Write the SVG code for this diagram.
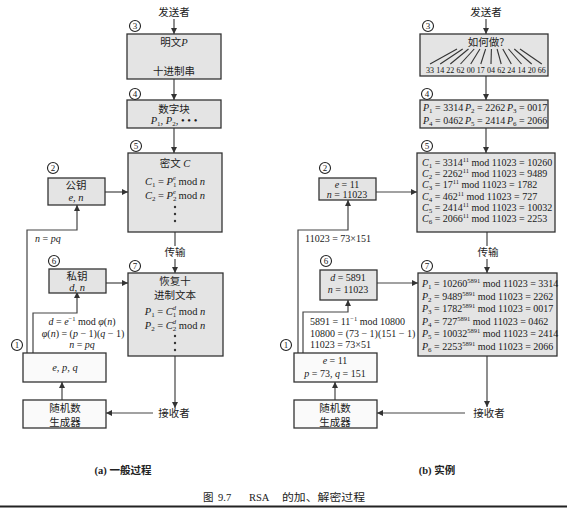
<svg xmlns="http://www.w3.org/2000/svg" width="567" height="508" viewBox="0 0 567 508">
<defs>
<marker id="ah" viewBox="0 0 10 10" refX="10" refY="5" markerWidth="7" markerHeight="6" orient="auto" markerUnits="userSpaceOnUse"><path d="M0,0 L10,5 L0,10 z" fill="#333"/></marker>
</defs>
<style>
.box{fill:#e4e4e4;stroke:#333;stroke-width:1.3}
.wbox{fill:#fafafa;stroke:#333;stroke-width:1.3}
.ln{stroke:#444;stroke-width:1.2;fill:none}
.ar{stroke:#444;stroke-width:1.2;fill:none;marker-end:url(#ah)}
.fan{stroke:#333;stroke-width:1.1}
.zh{font-family:"Noto Sans CJK SC","Noto Sans CJK JP",sans-serif;font-size:10.5px;fill:#222}
.m{font-family:"Liberation Serif",serif;font-size:10.5px;fill:#1a1a1a}
.r{font-family:"Liberation Serif",serif;font-size:10px;fill:#1a1a1a}
.num{font-family:"Liberation Serif",serif;font-size:8px;fill:#111;text-anchor:middle}
.i{font-style:italic}
.sb{font-size:7px}
.sp{font-size:6.5px}
.c{text-anchor:middle}
.cn circle{fill:#fff;stroke:#222;stroke-width:1.1}
.cn text{font-family:"Liberation Serif",serif;font-size:9px;text-anchor:middle;fill:#222}
.dot{fill:#333}
</style>
<rect width="567" height="508" fill="#fff"/>

<g id="connectors">
<path class="ar" d="M174,19 V34"/>
<path class="ar" d="M174,50 V63"/>
<path class="ar" d="M174,79 V100"/>
<path class="ar" d="M174,128 V153"/>
<path class="ar" d="M105,192 H128"/>
<path class="ar" d="M27,353 V230 H77 V205"/>
<path class="ln" d="M175,232 V246"/>
<path class="ar" d="M175,259 V273"/>
<path class="ar" d="M106,283 H128"/>
<path class="ar" d="M33,353 V313 H77 V292"/>
<path class="ar" d="M62,400 V382"/>
<path class="ar" d="M175,356 V408"/>
<path class="ar" d="M153,413 H106"/>
<path class="ar" d="M486,19 V34"/>
<path class="ar" d="M486,76 V100"/>
<path class="ar" d="M486,128 V153"/>
<path class="ar" d="M376,192 H417"/>
<path class="ar" d="M298,353 V230 H348 V200"/>
<path class="ln" d="M487,232 V246"/>
<path class="ar" d="M487,259 V273"/>
<path class="ar" d="M377,283 H418"/>
<path class="ar" d="M303,353 V312 H348 V300"/>
<path class="ar" d="M335,400 V382"/>
<path class="ar" d="M487,356 V407"/>
<path class="ar" d="M465,413 H377"/>
</g>

<!-- ===== Left panel ===== -->
<g id="a-sender"><text class="zh c" x="174" y="16">发送者</text></g>

<g id="a-n3">
<rect class="box" x="127" y="34" width="94" height="45"/>
<text class="zh c" x="174" y="46">明文<tspan class="m i">P</tspan></text>
<text class="zh c" x="174" y="75">十进制串</text>
<g class="cn"><circle cx="135" cy="26" r="5.5"/><text x="135" y="29">3</text></g>
</g>

<g id="a-n4">
<rect class="box" x="127" y="100" width="94" height="28"/>
<text class="zh c" x="174" y="113">数字块</text>
<text class="m c" x="174" y="124"><tspan class="i">P</tspan><tspan class="sb" dy="2">1</tspan><tspan dy="-2">, </tspan><tspan class="i">P</tspan><tspan class="sb" dy="2">2</tspan><tspan dy="-2">, • • •</tspan></text>
<g class="cn"><circle cx="135" cy="94" r="5.5"/><text x="135" y="97">4</text></g>
</g>

<g id="a-n5">
<rect class="box" x="128" y="153" width="94" height="79"/>
<text class="zh c" x="175" y="167">密文<tspan class="m i"> C</tspan></text>
<text class="m c" x="175" y="185"><tspan class="i">C</tspan><tspan class="sb" dy="2">1</tspan><tspan dy="-2"> = </tspan><tspan class="i">P</tspan><tspan class="sb" dy="2">1</tspan><tspan class="sp i" dx="-3.5" dy="-7">e</tspan><tspan dy="5"> mod </tspan><tspan class="i">n</tspan></text>
<text class="m c" x="175" y="199"><tspan class="i">C</tspan><tspan class="sb" dy="2">2</tspan><tspan dy="-2"> = </tspan><tspan class="i">P</tspan><tspan class="sb" dy="2">2</tspan><tspan class="sp i" dx="-3.5" dy="-7">e</tspan><tspan dy="5"> mod </tspan><tspan class="i">n</tspan></text>
<circle class="dot" cx="175" cy="207" r="1.2"/><circle class="dot" cx="175" cy="214" r="1.2"/><circle class="dot" cx="175" cy="221" r="1.2"/>
<g class="cn"><circle cx="136" cy="146" r="5.5"/><text x="136" y="149">5</text></g>
</g>

<g id="a-n2">
<rect class="box" x="48" y="178" width="57" height="27"/>
<text class="zh c" x="76" y="189">公钥</text>
<text class="m c i" x="76" y="201">e, n</text>
<g class="cn"><circle cx="53" cy="168" r="5.5"/><text x="53" y="171">2</text></g>
</g>
<text class="r i" x="35" y="242">n<tspan font-style="normal"> = </tspan>pq</text>

<g id="a-transfer"><text class="zh c" x="175" y="256">传输</text></g>

<g id="a-n6">
<rect class="box" x="49" y="269" width="57" height="24"/>
<text class="zh c" x="77" y="280">私钥</text>
<text class="m c i" x="77" y="291">d, n</text>
<g class="cn"><circle cx="54" cy="261" r="5.5"/><text x="54" y="264">6</text></g>
</g>

<g id="a-n7">
<rect class="box" x="128" y="273" width="95" height="83"/>
<text class="zh c" x="175" y="284.5" font-size="9.5">恢复十</text>
<text class="zh c" x="175" y="298.5" font-size="9.5">进制文本</text>
<text class="m c" x="175" y="315"><tspan class="i">P</tspan><tspan class="sb" dy="2">1</tspan><tspan dy="-2"> = </tspan><tspan class="i">C</tspan><tspan class="sb" dy="2">1</tspan><tspan class="sp i" dx="-3.5" dy="-7">d</tspan><tspan dy="5"> mod </tspan><tspan class="i">n</tspan></text>
<text class="m c" x="175" y="329"><tspan class="i">P</tspan><tspan class="sb" dy="2">2</tspan><tspan dy="-2"> = </tspan><tspan class="i">C</tspan><tspan class="sb" dy="2">2</tspan><tspan class="sp i" dx="-3.5" dy="-7">d</tspan><tspan dy="5"> mod </tspan><tspan class="i">n</tspan></text>
<circle class="dot" cx="175" cy="336" r="1.2"/><circle class="dot" cx="175" cy="343" r="1.2"/><circle class="dot" cx="175" cy="350" r="1.2"/>
<g class="cn"><circle cx="135" cy="266" r="5.5"/><text x="135" y="269">7</text></g>
</g>

<g id="a-labels">
<text class="r c" x="82" y="325"><tspan class="i">d</tspan> = <tspan class="i">e</tspan><tspan class="sp" dy="-4">−1</tspan><tspan dy="4"> mod </tspan><tspan class="i">φ</tspan>(<tspan class="i">n</tspan>)</text>
<text class="r c" x="83" y="337"><tspan class="i">φ</tspan>(<tspan class="i">n</tspan>) = (<tspan class="i">p</tspan> − 1)(<tspan class="i">q</tspan> − 1)</text>
<text class="r c i" x="82" y="348">n<tspan font-style="normal"> = </tspan>pq</text>
</g>

<g id="a-n1">
<rect class="wbox" x="23" y="353" width="83" height="29"/>
<text class="m c i" x="65" y="371">e, p, q</text>
<g class="cn"><circle cx="17" cy="345" r="5.5"/><text x="17" y="348">1</text></g>
</g>

<g id="a-rng">
<rect class="wbox" x="23" y="400" width="83" height="28"/>
<text class="zh c" x="65" y="411.5" font-size="9.5">随机数</text>
<text class="zh c" x="65" y="425.5" font-size="9.5">生成器</text>
</g>

<g id="a-receiver"><text class="zh c" x="174" y="417">接收者</text></g>

<text class="zh c" x="123" y="474" font-size="10" font-weight="bold"><tspan font-family="Liberation Serif">(a) </tspan>一般过程</text>

<!-- ===== Right panel ===== -->
<g id="b-sender"><text class="zh c" x="486" y="16">发送者</text></g>

<g id="b-n3">
<rect class="box" x="420" y="34" width="128" height="42"/>
<text class="zh c" x="486" y="46">如何做?</text>
<g class="fan">
<line x1="457" y1="49" x2="430" y2="64"/>
<line x1="462.7" y1="49" x2="440.2" y2="64"/>
<line x1="468.5" y1="49" x2="450.3" y2="64"/>
<line x1="474.2" y1="49" x2="460.5" y2="64"/>
<line x1="479.9" y1="49" x2="470.7" y2="64"/>
<line x1="485.6" y1="49" x2="480.8" y2="64"/>
<line x1="491.4" y1="49" x2="491" y2="64"/>
<line x1="497.1" y1="49" x2="501.2" y2="64"/>
<line x1="502.8" y1="49" x2="511.3" y2="64"/>
<line x1="508.5" y1="49" x2="521.5" y2="64"/>
<line x1="514.3" y1="49" x2="531.7" y2="64"/>
<line x1="520" y1="49" x2="541.8" y2="64"/>
</g>
<g id="b-digits">
<text class="num" x="430" y="73">33</text>
<text class="num" x="440.2" y="73">14</text>
<text class="num" x="450.3" y="73">22</text>
<text class="num" x="460.5" y="73">62</text>
<text class="num" x="470.7" y="73">00</text>
<text class="num" x="480.8" y="73">17</text>
<text class="num" x="491" y="73">04</text>
<text class="num" x="501.2" y="73">62</text>
<text class="num" x="511.3" y="73">24</text>
<text class="num" x="521.5" y="73">14</text>
<text class="num" x="531.7" y="73">20</text>
<text class="num" x="541.8" y="73">66</text>
</g>
<g class="cn"><circle cx="428" cy="26" r="5.5"/><text x="428" y="29">3</text></g>
</g>

<g id="b-n4">
<rect class="box" x="420" y="100" width="128" height="28"/>
<text class="r" x="423" y="111"><tspan class="i">P</tspan><tspan class="sb" dy="2">1</tspan><tspan dy="-2"> = 3314</tspan></text>
<text class="r" x="465" y="111"><tspan class="i">P</tspan><tspan class="sb" dy="2">2</tspan><tspan dy="-2"> = 2262</tspan></text>
<text class="r" x="507" y="111"><tspan class="i">P</tspan><tspan class="sb" dy="2">3</tspan><tspan dy="-2"> = 0017</tspan></text>
<text class="r" x="423" y="124"><tspan class="i">P</tspan><tspan class="sb" dy="2">4</tspan><tspan dy="-2"> = 0462</tspan></text>
<text class="r" x="465" y="124"><tspan class="i">P</tspan><tspan class="sb" dy="2">5</tspan><tspan dy="-2"> = 2414</tspan></text>
<text class="r" x="507" y="124"><tspan class="i">P</tspan><tspan class="sb" dy="2">6</tspan><tspan dy="-2"> = 2066</tspan></text>
<g class="cn"><circle cx="427" cy="94" r="5.5"/><text x="427" y="97">4</text></g>
</g>

<g id="b-n5">
<rect class="box" x="417" y="153" width="138" height="79"/>
<text class="r" x="422" y="166"><tspan class="i">C</tspan><tspan class="sb" dy="2">1</tspan><tspan dy="-2"> = 3314</tspan><tspan class="sp" dy="-4">11</tspan><tspan dy="4"> mod 11023 = 10260</tspan></text>
<text class="r" x="422" y="177"><tspan class="i">C</tspan><tspan class="sb" dy="2">2</tspan><tspan dy="-2"> = 2262</tspan><tspan class="sp" dy="-4">11</tspan><tspan dy="4"> mod 11023 = 9489</tspan></text>
<text class="r" x="422" y="188"><tspan class="i">C</tspan><tspan class="sb" dy="2">3</tspan><tspan dy="-2"> = 17</tspan><tspan class="sp" dy="-4">11</tspan><tspan dy="4"> mod 11023 = 1782</tspan></text>
<text class="r" x="422" y="200"><tspan class="i">C</tspan><tspan class="sb" dy="2">4</tspan><tspan dy="-2"> = 462</tspan><tspan class="sp" dy="-4">11</tspan><tspan dy="4"> mod 11023 = 727</tspan></text>
<text class="r" x="422" y="211"><tspan class="i">C</tspan><tspan class="sb" dy="2">5</tspan><tspan dy="-2"> = 2414</tspan><tspan class="sp" dy="-4">11</tspan><tspan dy="4"> mod 11023 = 10032</tspan></text>
<text class="r" x="422" y="222"><tspan class="i">C</tspan><tspan class="sb" dy="2">6</tspan><tspan dy="-2"> = 2066</tspan><tspan class="sp" dy="-4">11</tspan><tspan dy="4"> mod 11023 = 2253</tspan></text>
<g class="cn"><circle cx="427" cy="146" r="5.5"/><text x="427" y="149">5</text></g>
</g>

<g id="b-n2">
<rect class="box" x="319" y="178" width="57" height="22"/>
<text class="r c" x="347" y="188"><tspan class="i">e</tspan> = 11</text>
<text class="r c" x="347" y="198"><tspan class="i">n</tspan> = 11023</text>
<g class="cn"><circle cx="325" cy="168" r="5.5"/><text x="325" y="171">2</text></g>
</g>
<text class="r" x="305" y="242" font-size="9.5">11023 = 73×151</text>

<g id="b-transfer"><text class="zh c" x="488" y="256">传输</text></g>

<g id="b-n6">
<rect class="box" x="320" y="270" width="57" height="30"/>
<text class="r c" x="348" y="281"><tspan class="i">d</tspan> = 5891</text>
<text class="r c" x="348" y="293"><tspan class="i">n</tspan> = 11023</text>
<g class="cn"><circle cx="326" cy="261" r="5.5"/><text x="326" y="264">6</text></g>
</g>

<g id="b-n7">
<rect class="box" x="418" y="273" width="139" height="83"/>
<text class="r" x="422" y="287" font-size="9.6"><tspan class="i">P</tspan><tspan class="sb" dy="2">1</tspan><tspan dy="-2"> = 10260</tspan><tspan class="sp" dy="-4">5891</tspan><tspan dy="4"> mod 11023 = 3314</tspan></text>
<text class="r" x="422" y="300" font-size="9.6"><tspan class="i">P</tspan><tspan class="sb" dy="2">2</tspan><tspan dy="-2"> = 9489</tspan><tspan class="sp" dy="-4">5891</tspan><tspan dy="4"> mod 11023 = 2262</tspan></text>
<text class="r" x="422" y="312" font-size="9.6"><tspan class="i">P</tspan><tspan class="sb" dy="2">3</tspan><tspan dy="-2"> = 1782</tspan><tspan class="sp" dy="-4">5891</tspan><tspan dy="4"> mod 11023 = 0017</tspan></text>
<text class="r" x="422" y="325" font-size="9.6"><tspan class="i">P</tspan><tspan class="sb" dy="2">4</tspan><tspan dy="-2"> = 727</tspan><tspan class="sp" dy="-4">5891</tspan><tspan dy="4"> mod 11023 = 0462</tspan></text>
<text class="r" x="422" y="337" font-size="9.6"><tspan class="i">P</tspan><tspan class="sb" dy="2">5</tspan><tspan dy="-2"> = 10032</tspan><tspan class="sp" dy="-4">5891</tspan><tspan dy="4"> mod 11023 = 2414</tspan></text>
<text class="r" x="422" y="350" font-size="9.6"><tspan class="i">P</tspan><tspan class="sb" dy="2">6</tspan><tspan dy="-2"> = 2253</tspan><tspan class="sp" dy="-4">5891</tspan><tspan dy="4"> mod 11023 = 2066</tspan></text>
<g class="cn"><circle cx="427" cy="266" r="5.5"/><text x="427" y="269">7</text></g>
</g>

<g id="b-labels">
<text class="r" x="310" y="325" font-size="9.5">5891 = 11<tspan class="sp" dy="-4">−1</tspan><tspan dy="4"> mod 10800</tspan></text>
<text class="r" x="310" y="337" font-size="9.5">10800 = (73 − 1)(151 − 1)</text>
<text class="r" x="310" y="348" font-size="9.5">11023 = 73×51</text>
</g>

<g id="b-n1">
<rect class="wbox" x="294" y="353" width="83" height="29"/>
<text class="r c" x="335" y="364"><tspan class="i">e</tspan> = 11</text>
<text class="r c" x="335" y="377"><tspan class="i">p</tspan> = 73, <tspan class="i">q</tspan> = 151</text>
<g class="cn"><circle cx="286" cy="345" r="5.5"/><text x="286" y="348">1</text></g>
</g>

<g id="b-rng">
<rect class="wbox" x="294" y="400" width="83" height="28"/>
<text class="zh c" x="335" y="411.5" font-size="9.5">随机数</text>
<text class="zh c" x="335" y="425.5" font-size="9.5">生成器</text>
</g>

<g id="b-receiver"><text class="zh c" x="489" y="417">接收者</text></g>

<text class="zh c" x="437" y="474" font-size="10" font-weight="bold"><tspan font-family="Liberation Serif">(b) </tspan>实例</text>

<g id="caption">
<text class="zh" x="203" y="501" font-size="12.5">图</text>
<text class="m" x="218" y="501" font-size="13">9.7</text>
<text class="m" x="249" y="501" font-size="13">RSA</text>
<text class="zh" x="282" y="501" font-size="12" textLength="83" lengthAdjust="spacingAndGlyphs">的加、解密过程</text>
</g>
<line x1="0" y1="506.5" x2="567" y2="506.5" stroke="#222" stroke-width="2"/>
</svg>
